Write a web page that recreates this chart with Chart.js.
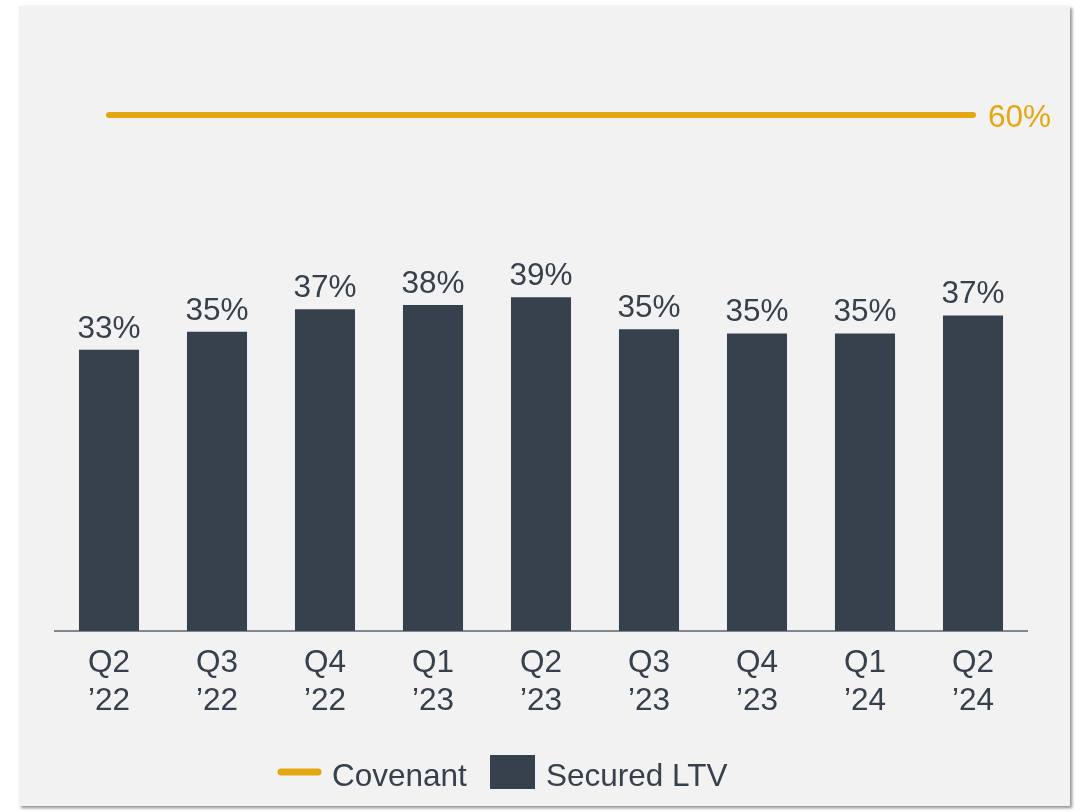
<!DOCTYPE html>
<html>
<head>
<meta charset="utf-8">
<script src="https://cdn.jsdelivr.net/npm/chart.js@4"></script>
<style>
  html, body { margin: 0; padding: 0; background: #ffffff; }
  #panel {
    position: absolute; left: 19px; top: 6px; width: 1051px; height: 800px;
    background: #f2f2f2; box-shadow: 2px 2px 3px rgba(0,0,0,0.45);
  }
  #wrap { position: absolute; left: 0; top: 0; width: 1084px; height: 812px; }
</style>
</head>
<body>
<div id="panel"></div>
<div id="wrap"><canvas id="chart" width="1084" height="812"></canvas></div>
<script>
// chart data
const quarters = ['Q2', 'Q3', 'Q4', 'Q1', 'Q2', 'Q3', 'Q4', 'Q1', 'Q2'];
const years = ['’22', '’22', '’22', '’23', '’23', '’23', '’23', '’24', '’24'];
const securedLtv = [32.7, 34.8, 37.4, 37.9, 38.8, 35.1, 34.6, 34.6, 36.7];
const securedLabels = ['33%', '35%', '37%', '38%', '39%', '35%', '35%', '35%', '37%'];
const covenant = [60, 60, 60, 60, 60, 60, 60, 60, 60];
const covenantLabel = '60%';

const SLATE = '#36414d';
const GOLD = '#e4a711';
const FONT = '"Liberation Sans", Arial, sans-serif';
const FSIZE = 31.5;

const labelPlugin = {
  id: 'valueLabels',
  afterDatasetsDraw(chart) {
    const ctx = chart.ctx;
    ctx.save();
    ctx.font = FSIZE + 'px ' + FONT;
    ctx.textAlign = 'center';
    ctx.textBaseline = 'alphabetic';
    ctx.fillStyle = SLATE;
    chart.getDatasetMeta(1).data.forEach((bar, i) => {
      ctx.fillText(securedLabels[i], bar.x, bar.y - 12);
    });
    const pts = chart.getDatasetMeta(0).data;
    const last = pts[pts.length - 1];
    ctx.fillStyle = GOLD;
    ctx.textAlign = 'left';
    ctx.fillText(covenantLabel, last.x + 15, last.y + 12);
    ctx.restore();
  }
};

const legendPlugin = {
  id: 'customLegend',
  afterDraw(chart) {
    const ctx = chart.ctx;
    ctx.save();
    ctx.strokeStyle = GOLD;
    ctx.lineWidth = 7;
    ctx.lineCap = 'round';
    ctx.beginPath();
    ctx.moveTo(281, 772);
    ctx.lineTo(318, 772);
    ctx.stroke();
    ctx.font = FSIZE + 'px ' + FONT;
    ctx.fillStyle = SLATE;
    ctx.textBaseline = 'alphabetic';
    ctx.fillText('Covenant', 332, 786);
    ctx.fillRect(490, 755, 45, 34);
    ctx.fillText('Secured LTV', 546, 786);
    ctx.restore();
  }
};

new Chart(document.getElementById('chart'), {
  data: {
    labels: quarters.map((q, i) => [q, years[i]]),
    datasets: [
      {
        type: 'line',
        label: 'Covenant',
        data: covenant,
        borderColor: GOLD,
        borderWidth: 6,
        borderCapStyle: 'round',
        pointRadius: 0,
        fill: false
      },
      {
        type: 'bar',
        label: 'Secured LTV',
        data: securedLtv,
        backgroundColor: SLATE,
        categoryPercentage: 1,
        barPercentage: 0.556
      }
    ]
  },
  options: {
    responsive: false,
    animation: false,
    layout: { padding: { left: 55, right: 57, top: 29, bottom: 31 } },
    plugins: { legend: { display: false }, tooltip: { enabled: false } },
    scales: {
      x: {
        grid: { display: false, drawTicks: false },
        border: { display: true, color: '#7f8892', width: 2 },
        ticks: {
          color: SLATE,
          padding: 13,
          maxRotation: 0,
          font: { family: FONT, size: FSIZE, lineHeight: 1.21 }
        },
        afterFit(scale) { scale.height = 150; }
      },
      y: {
        display: false,
        min: 0,
        max: 70
      }
    }
  },
  plugins: [labelPlugin, legendPlugin]
});
</script>
</body>
</html>
